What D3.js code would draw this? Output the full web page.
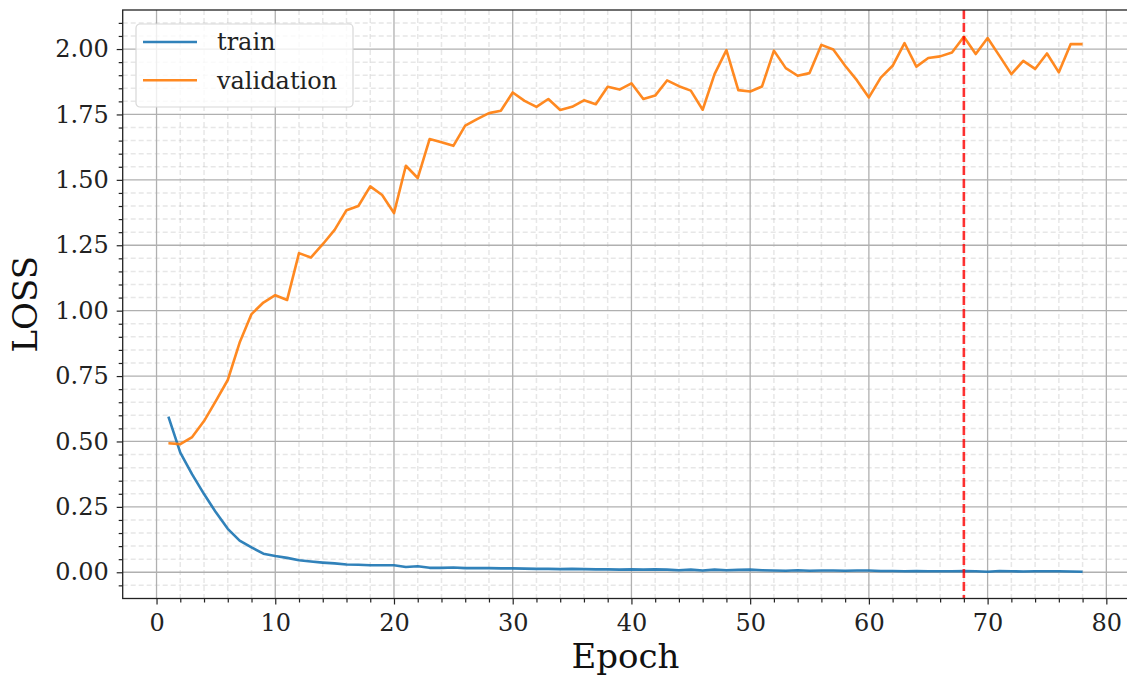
<!DOCTYPE html>
<html>
<head>
<meta charset="utf-8">
<script src="https://cdn.jsdelivr.net/npm/d3@7"></script>
<style>
  body { margin: 0; background: #fff; }
  svg { font-family: "DejaVu Serif", serif; }
  .grid-major line { stroke: #b0b0b0; stroke-width: 1.3; }
  .grid-minor line { stroke: #b0b0b0; stroke-opacity: 0.3; stroke-width: 1.5; stroke-dasharray: 5,3; }
  .axis path { display: none; }
  .axis line { stroke: #222; stroke-width: 1.2; }
  .axis text { font-family: "DejaVu Serif", serif; font-size: 24px; fill: #222; }
  .frame { fill: none; stroke: #222; stroke-width: 1.3; }
  .series { fill: none; stroke-width: 2.6; stroke-linejoin: round; }
</style>
</head>
<body>
<svg id="chart"></svg>
<script>
var epochs = d3.range(1, 79);

var trainLoss = [
  0.595, 0.457, 0.374, 0.299, 0.229, 0.166, 0.121, 0.095, 0.071, 0.062,
  0.055, 0.046, 0.041, 0.037, 0.034, 0.030, 0.029, 0.027, 0.027, 0.027,
  0.020, 0.023, 0.017, 0.017, 0.018, 0.016, 0.016, 0.016, 0.015, 0.015,
  0.014, 0.013, 0.013, 0.012, 0.013, 0.012, 0.011, 0.011, 0.010, 0.011,
  0.010, 0.011, 0.010, 0.008, 0.010, 0.007, 0.010, 0.008, 0.009, 0.010,
  0.008, 0.007, 0.006, 0.008, 0.006, 0.007, 0.007, 0.006, 0.007, 0.007,
  0.005, 0.005, 0.004, 0.005, 0.004, 0.004, 0.004, 0.005, 0.004, 0.002,
  0.005, 0.004, 0.003, 0.004, 0.004, 0.004, 0.003, 0.002
];

var valLoss = [
  0.493, 0.490, 0.517, 0.578, 0.655, 0.735, 0.878, 0.987, 1.031, 1.059,
  1.041, 1.220, 1.203, 1.254, 1.309, 1.384, 1.400, 1.475, 1.442, 1.373,
  1.554, 1.507, 1.656, 1.644, 1.630, 1.707, 1.732, 1.755, 1.764, 1.834,
  1.802, 1.779, 1.809, 1.767, 1.779, 1.804, 1.789, 1.856, 1.845, 1.869,
  1.809, 1.822, 1.880, 1.858, 1.841, 1.768, 1.904, 1.996, 1.843, 1.838,
  1.857, 1.994, 1.927, 1.898, 1.908, 2.016, 1.998, 1.936, 1.880, 1.815,
  1.891, 1.936, 2.023, 1.933, 1.966, 1.972, 1.987, 2.047, 1.981, 2.042,
  1.974, 1.904, 1.955, 1.924, 1.983, 1.911, 2.019, 2.019
];

var bestEpoch = 68;

var xTicks = [0, 10, 20, 30, 40, 50, 60, 70, 80];
var yTicks = [0, 0.25, 0.5, 0.75, 1.0, 1.25, 1.5, 1.75, 2.0];

var series = [
  { name: 'train', values: trainLoss, color: '#1f77b4' },
  { name: 'validation', values: valLoss, color: '#ff7f0e' }
];

var render = (selector) => {
  var W = 1127, H = 680;
  var left = 122.7, right = 1128.3, top = 10, bottom = 598.5;

  // matplotlib-like 5% padding around the data
  var pad = (ext) => {
    var d = (ext[1] - ext[0]) * 0.05;
    return [ext[0] - d, ext[1] + d];
  };

  var x = d3.scaleLinear()
    .domain(pad(d3.extent(epochs)))
    .range([left, right]);

  var y = d3.scaleLinear()
    .domain(pad(d3.extent(trainLoss.concat(valLoss))))
    .range([bottom, top]);

  var xMinor = d3.range(0, 82, 2).filter(v => v % 10 !== 0);
  var yMinor = d3.range(0, 44).map(i => +(i * 0.05).toFixed(2))
    .filter(v => Math.round(v * 100) % 25 !== 0 && v < y.domain()[1]);
  yMinor.unshift(-0.05);

  var svg = d3.select(selector)
    .attr('width', W)
    .attr('height', H);

  svg.append('defs').append('clipPath').attr('id', 'plot-clip')
    .append('rect')
    .attr('x', left).attr('y', top)
    .attr('width', right - left).attr('height', bottom - top);

  /**
   * grid
   */
  var gMinor = svg.append('g').attr('class', 'grid-minor').attr('clip-path', 'url(#plot-clip)');
  gMinor.selectAll('line.v').data(xMinor).enter().append('line')
    .attr('x1', d => x(d)).attr('x2', d => x(d)).attr('y1', top).attr('y2', bottom);
  gMinor.selectAll('line.h').data(yMinor).enter().append('line')
    .attr('y1', d => y(d)).attr('y2', d => y(d)).attr('x1', left).attr('x2', right);

  var gMajor = svg.append('g').attr('class', 'grid-major').attr('clip-path', 'url(#plot-clip)');
  gMajor.selectAll('line.v').data(xTicks).enter().append('line')
    .attr('x1', d => x(d)).attr('x2', d => x(d)).attr('y1', top).attr('y2', bottom);
  gMajor.selectAll('line.h').data(yTicks).enter().append('line')
    .attr('y1', d => y(d)).attr('y2', d => y(d)).attr('x1', left).attr('x2', right);

  /**
   * series
   */
  var line = d3.line()
    .x((d, i) => x(epochs[i]))
    .y(d => y(d));

  var plot = svg.append('g').attr('clip-path', 'url(#plot-clip)');
  series.forEach(s => {
    plot.append('path')
      .attr('class', 'series')
      .attr('stroke', s.color)
      .attr('stroke-opacity', 0.92)
      .attr('d', line(s.values));
  });

  plot.append('line')
    .attr('x1', x(bestEpoch)).attr('x2', x(bestEpoch))
    .attr('y1', top).attr('y2', bottom)
    .attr('stroke', '#ff0000')
    .attr('stroke-opacity', 0.8)
    .attr('stroke-width', 2.6)
    .attr('stroke-dasharray', '9,4');

  /**
   * axes
   */
  svg.append('g')
    .attr('class', 'axis x')
    .attr('transform', `translate(0, ${ bottom })`)
    .call(d3.axisBottom(x).tickValues(xMinor).tickSize(4).tickFormat(''));

  svg.append('g')
    .attr('class', 'axis x')
    .attr('transform', `translate(0, ${ bottom })`)
    .call(d3.axisBottom(x).tickValues(xTicks).tickSize(6).tickPadding(8).tickFormat(d3.format('d')))
    .selectAll('text').attr('dy', '0.76em');

  svg.append('g')
    .attr('class', 'axis y')
    .attr('transform', `translate(${ left }, 0)`)
    .call(d3.axisLeft(y).tickValues(yMinor).tickSize(4).tickFormat(''));

  svg.append('g')
    .attr('class', 'axis y')
    .attr('transform', `translate(${ left }, 0)`)
    .call(d3.axisLeft(y).tickValues(yTicks).tickSize(6).tickPadding(8).tickFormat(d3.format('.2f')));

  svg.selectAll('.axis').attr('font-family', null).attr('font-size', null);

  svg.append('rect')
    .attr('class', 'frame')
    .attr('x', left).attr('y', top)
    .attr('width', right - left).attr('height', bottom - top);

  /**
   * labels
   */
  svg.append('text')
    .attr('x', (left + right) / 2)
    .attr('y', 668)
    .attr('text-anchor', 'middle')
    .attr('font-size', 34)
    .attr('fill', '#111')
    .text('Epoch');

  svg.append('text')
    .attr('transform', `translate(37, ${ (top + bottom) / 2 }) rotate(-90)`)
    .attr('text-anchor', 'middle')
    .attr('font-size', 34)
    .attr('fill', '#111')
    .text('LOSS');

  /**
   * legend
   */
  var legend = svg.append('g').attr('transform', 'translate(136, 24)');
  legend.append('rect')
    .attr('width', 217).attr('height', 83)
    .attr('rx', 4)
    .attr('fill', '#fff').attr('fill-opacity', 0.8)
    .attr('stroke', '#d8d8d8').attr('stroke-width', 1.2);

  var item = legend.selectAll('g.item')
    .data(series)
    .enter().append('g')
      .attr('class', 'item')
      .attr('transform', (d, i) => `translate(0, ${ 18 + i * 38.3 })`);

  item.append('line')
    .attr('x1', 7).attr('x2', 61)
    .attr('stroke', d => d.color)
    .attr('stroke-opacity', 0.92)
    .attr('stroke-width', 2.6);

  item.append('text')
    .attr('x', 81)
    .attr('dy', '0.35em')
    .attr('font-size', 24)
    .attr('fill', '#222')
    .text(d => d.name);
};

render('#chart');
</script>
</body>
</html>
